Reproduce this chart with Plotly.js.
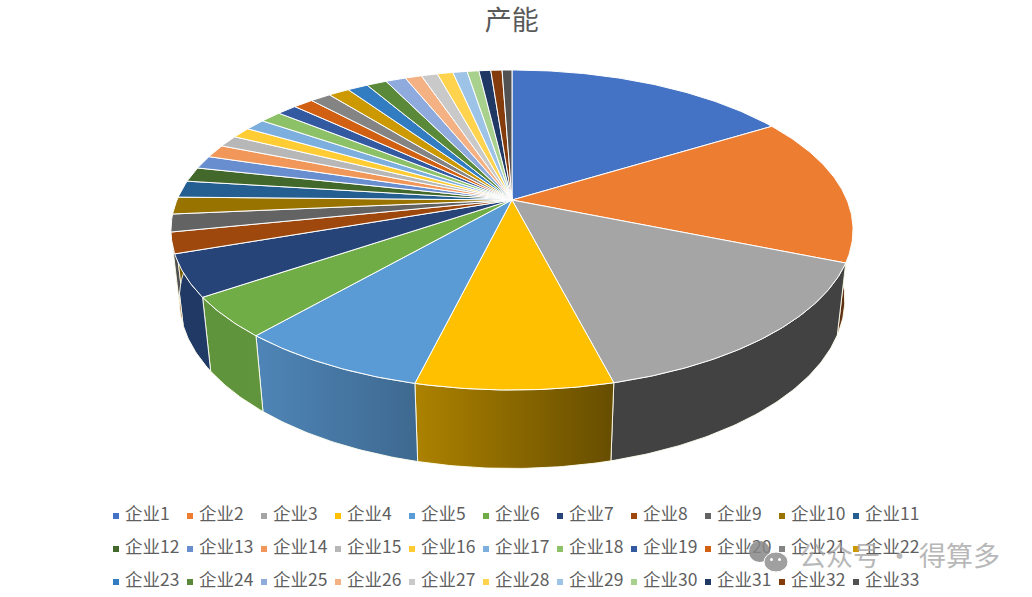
<!DOCTYPE html>
<html>
<head>
<meta charset="utf-8">
<script src="https://cdn.plot.ly/plotly-3.0.1.min.js"></script>
<style>html,body{margin:0;padding:0;background:#fff}#chart{width:1032px;height:597px}</style>
</head>
<body>
<div id="chart"></div>
<script>
const chartTitle = "产能";
const categories = ["企业1","企业2","企业3","企业4","企业5","企业6","企业7","企业8","企业9","企业10","企业11",
  "企业12","企业13","企业14","企业15","企业16","企业17","企业18","企业19","企业20","企业21","企业22",
  "企业23","企业24","企业25","企业26","企业27","企业28","企业29","企业30","企业31","企业32","企业33"];
const values = [16.22,14.97,14.81,7.81,7.58,4.08,4.22,2.11,1.78,1.72,1.69,
  1.47,1.33,1.33,1.19,1.11,1.17,1.22,1.14,1.14,1.17,1.19,
  1.17,1.14,1.14,0.94,0.92,0.89,0.81,0.67,0.67,0.64,0.56];
const colors = ["#4472C4","#ED7D31","#A5A5A5","#FFC000","#5B9BD5","#70AD47","#264478","#9E480E","#636363","#997300","#255E91",
  "#43682B","#698ED0","#F1975A","#B7B7B7","#FFCD33","#7CAFDD","#8CC168","#335AA1","#D26012","#848484","#CC9A00",
  "#327DC2","#5A8A39","#8FAADC","#F4B183","#C9C9C9","#FFD34D","#9DC3E6","#A9D18E","#1F3864","#843C0C","#525252"];
const watermark = "公众号 · 得算多";

// perspective projection of the pie disc onto the pixel-ranged axes
const CX = 512, A = 335, K = 0.1875, B = -116.875, Y0 = 200, M = 0.024, D = 75;
function project(deg, bottom) {
  const t = deg * Math.PI / 180, x = Math.sin(t), y = Math.cos(t);
  const w = 1 + K * y + (bottom ? M : 0);
  return [CX + A * x / w, (Y0 + B * y + (bottom ? D : 0)) / w];
}
function arc(a, b, bottom) {
  const pts = [], n = Math.max(2, Math.ceil(Math.abs(b - a) * 1.5));
  for (let i = 0; i <= n; i++) pts.push(project(a + (b - a) * i / n, bottom));
  return pts;
}
const wallStops = [[90,.40],[166,.40],[194,.68],[221,.86],[250,.84],[270,.78]];
function wallFactor(d) {
  for (let i = 1; i < wallStops.length; i++) {
    if (d <= wallStops[i][0]) {
      const [a, fa] = wallStops[i-1], [b, fb] = wallStops[i];
      return fa + (fb - fa) * (d - a) / (b - a);
    }
  }
  return wallStops[wallStops.length-1][1];
}
function shade(hex, f) {
  const n = parseInt(hex.slice(1), 16);
  return `rgb(${Math.round((n>>16&255)*f)},${Math.round((n>>8&255)*f)},${Math.round((n&255)*f)})`;
}

const total = values.reduce((s, v) => s + v, 0);
let acc = 0;
const slices = values.map((v, i) => {
  const a = acc / total * 360; acc += v;
  return {a, b: acc / total * 360, name: categories[i], color: colors[i]};
});

const traces = [];
// side walls
slices.forEach(s => {
  const a = Math.max(s.a, 90), b = Math.min(s.b, 270);
  if (b <= a) return;
  const poly = arc(a, b, false).concat(arc(b, a, true));
  poly.push(poly[0]);
  traces.push({
    type:"scatter", mode:"lines", x:poly.map(p=>p[0]), y:poly.map(p=>p[1]),
    fill:"toself", fillcolor:shade(s.color, wallFactor((a+b)/2)),
    fillgradient:{type:"horizontal", colorscale:[[0,shade(s.color,wallFactor(b))],[1,shade(s.color,wallFactor(a))]]},
    line:{color:"rgba(255,255,240,0.9)", width:1}, hoverinfo:"skip", showlegend:false, name:s.name
  });
});
// top faces
slices.forEach(s => {
  const poly = [[CX, Y0]].concat(arc(s.a, s.b, false));
  poly.push(poly[0]);
  traces.push({
    type:"scatter", mode:"lines", x:poly.map(p=>p[0]), y:poly.map(p=>p[1]),
    fill:"toself", fillcolor:s.color, line:{color:"#ffffff", width:1},
    hoverinfo:"text", text:s.name, showlegend:false, name:s.name
  });
});
// legend: three rows of eleven
const LEG_X = 116, LEG_DX = 74, LEG_Y = [516, 549, 582];
traces.push({
  type:"scatter", mode:"markers", cliponaxis:false, hoverinfo:"skip", showlegend:false,
  x:categories.map((_,i)=>LEG_X + LEG_DX*(i%11)),
  y:categories.map((_,i)=>LEG_Y[Math.floor(i/11)]),
  marker:{symbol:"square", size:6, color:colors}
});
traces.push({
  type:"scatter", mode:"text", cliponaxis:false, hoverinfo:"skip", showlegend:false,
  x:categories.map((_,i)=>LEG_X + 9 + LEG_DX*(i%11)),
  y:categories.map((_,i)=>LEG_Y[Math.floor(i/11)]),
  text:categories, textposition:"middle right",
  textfont:{family:'"Noto Sans CJK SC", sans-serif', size:17.5, color:"#5f5f5f"}
});

const axis = {visible:false, fixedrange:true, showgrid:false, zeroline:false};
const layout = {
  width:1032, height:597, margin:{l:0,r:0,t:0,b:0}, paper_bgcolor:"#fff", plot_bgcolor:"#fff",
  showlegend:false, hovermode:"closest",
  title:{text:chartTitle, x:0.496, xanchor:"center", y:1-21/597, yanchor:"middle", yref:"container",
    font:{family:'"Noto Sans CJK SC", sans-serif', size:27, color:"#595959"}},
  xaxis:Object.assign({range:[0,1032]}, axis),
  yaxis:Object.assign({range:[597,0]}, axis),
  annotations:[{text:watermark, xref:"x", yref:"y", x:797, y:554, xanchor:"left", yanchor:"middle", showarrow:false,
    font:{family:'"Noto Sans CJK SC", sans-serif', size:27, color:"rgba(165,165,165,0.8)"}}],
  shapes:[
    {type:"circle", xref:"x", yref:"y", x0:749, x1:770, y0:541, y1:562, fillcolor:"rgba(135,135,135,0.85)", line:{width:0}},
    {type:"circle", xref:"x", yref:"y", x0:764, x1:788, y0:552, y1:572, fillcolor:"rgba(160,160,160,1)", line:{color:"#fff",width:1}},
    {type:"circle", xref:"x", yref:"y", x0:770, x1:773, y0:558, y1:561, fillcolor:"#fff", line:{width:0}},
    {type:"circle", xref:"x", yref:"y", x0:778, x1:781, y0:558, y1:561, fillcolor:"#fff", line:{width:0}}
  ]
};
Plotly.newPlot("chart", traces, layout, {displayModeBar:false, responsive:false});
</script>
</body>
</html>
